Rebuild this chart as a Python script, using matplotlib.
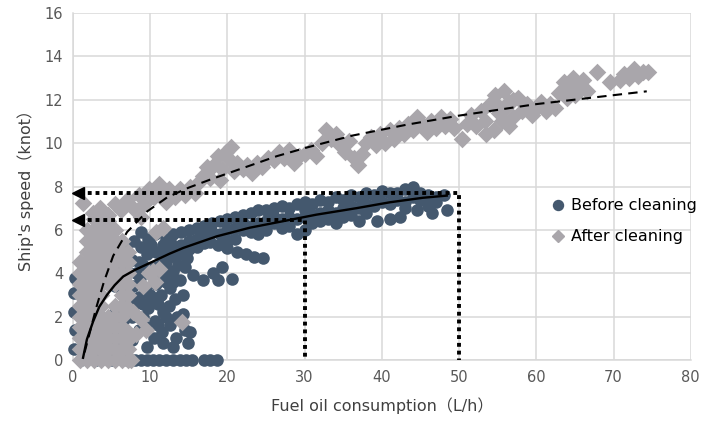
import numpy as np
import matplotlib
matplotlib.use('Agg')
import matplotlib.pyplot as plt
from matplotlib.lines import Line2D

plt.rcParams['font.family'] = ['DejaVu Sans', 'Noto Sans CJK JP']

# ---- data (x = fuel L/h, y = speed knot) ----
before_zero = [(1.0, 0), (3.0, 0), (5.0, 0), (7.0, 0), (8.0, 0), (8.8, 0), (9.6, 0),
               (10.4, 0), (11.2, 0), (12.0, 0), (13.0, 0), (13.8, 0), (14.6, 0),
               (15.4, 0), (17.0, 0), (17.8, 0), (18.6, 0)]

before_edge = [(0.1, 3.1), (0.1, 2.2), (0.1, 0.5), (0.2, 1.4), (0.2, 3.8)]

before_left = [(5.5, 1.0), (5.5, 2.2), (5.5, 3.4), (5.8, 4.5), (6.5, 0.6), (6.5, 1.8),
               (6.6, 3.0), (6.8, 4.2), (6.9, 5.2), (7.6, 0.9), (7.6, 2.0), (7.8, 3.4),
               (7.6, 4.6), (7.9, 5.5), (8.6, 1.4), (8.5, 2.9), (8.7, 3.8), (8.6, 4.5),
               (8.8, 5.2), (8.8, 5.9), (9.6, 0.6), (9.5, 1.5), (9.7, 2.4), (9.4, 3.2),
               (9.8, 4.0), (9.6, 4.9), (9.7, 5.6), (10.5, 1.0), (10.6, 1.8), (10.4, 2.7),
               (10.7, 3.5), (10.5, 4.3), (10.8, 5.0), (10.6, 5.8), (11.5, 1.3), (11.6, 2.2),
               (11.4, 3.0), (11.7, 3.8), (11.5, 4.6), (11.6, 5.3), (12.5, 1.6), (12.4, 2.5),
               (12.6, 3.3), (12.4, 4.1), (12.7, 4.8), (12.5, 5.5), (13.4, 1.0), (13.5, 2.0),
               (13.2, 2.8), (13.6, 4.4), (13.4, 5.2), (14.2, 3.0), (14.5, 1.4), (14.9, 0.8),
               (15.1, 1.3), (14.3, 2.1), (11.7, 0.8), (13.0, 0.6),
               (8.0, 2.6), (9.0, 2.0), (10.0, 3.0), (11.0, 2.6), (12.0, 2.0), (12.0, 3.6),
               (13.0, 3.6), (13.0, 4.1), (9.1, 4.4), (10.1, 5.3), (11.1, 4.0), (12.1, 4.5),
               (13.8, 3.7), (14.5, 4.3), (14.8, 4.7), (8.2, 4.0), (9.0, 2.6), (11.0, 1.6)]

before_branch = [(17.7, 5.45), (18.8, 5.3), (20.0, 5.15), (21.2, 5.0), (22.4, 4.9),
                 (23.5, 4.75), (24.6, 4.7), (15.5, 3.9), (16.8, 3.7), (18.1, 4.0),
                 (19.3, 4.3), (20.6, 3.75), (18.8, 3.7)]

before_band = [(12, 5.0), (12, 5.6), (13, 5.2), (13, 5.8), (13, 4.8), (14, 5.3), (14, 5.9),
               (14, 4.9), (15, 5.5), (15, 6.0), (15, 5.1), (16, 5.6), (16, 6.1), (16, 5.2),
               (17, 5.7), (17, 6.2), (17, 5.4), (18, 5.9), (18, 6.3), (19, 5.8), (19, 6.4),
               (20, 6.0), (20, 6.5), (20, 5.5), (21, 6.1), (21, 6.6), (21, 5.6), (22, 6.0),
               (22, 6.7), (22, 6.3), (23, 6.2), (23, 6.8), (23, 5.9), (24, 6.3), (24, 6.9),
               (24, 5.8), (25, 6.4), (25, 6.9), (25, 6.0), (26, 6.3), (26, 7.0), (26, 6.6),
               (27, 6.5), (27, 7.1), (27, 6.1), (28, 6.6), (28, 7.0), (28, 6.2), (29, 6.5),
               (29, 7.2), (29, 5.8), (30, 6.6), (30, 7.3), (30, 6.0), (30, 6.9), (31, 6.7),
               (31, 7.2), (31, 6.3), (32, 6.8), (32, 7.4), (32, 6.4), (33, 6.9), (33, 7.3),
               (33, 6.5), (34, 6.8), (34, 7.5), (34, 6.3), (35, 7.0), (35, 7.4), (35, 6.6),
               (36, 7.1), (36, 7.6), (36, 6.7), (37, 7.0), (37, 7.5), (37, 6.4), (38, 7.2),
               (38, 7.7), (38, 6.8), (39, 7.1), (39, 7.6), (39.4, 6.4), (40, 7.3), (40, 7.8),
               (41, 6.5), (41, 7.2), (41, 7.7), (42.3, 6.6), (42, 7.4), (42, 7.7), (43, 7.3),
               (43, 7.9), (43, 7.0), (44, 7.5), (44, 8.0), (44.5, 6.9), (45, 7.4), (45, 7.7),
               (46, 7.6), (46, 7.1), (46.5, 6.8), (47, 7.5), (47, 7.3), (48, 7.6), (48.4, 6.9)]

after_column = [(0.9, 0.0), (0.9, 0.5), (0.9, 1.0), (0.9, 1.5), (0.9, 2.0), (0.9, 2.5),
                (0.9, 3.0), (0.9, 3.5), (0.9, 4.0), (0.9, 4.5),
                (1.8, 0.0), (1.8, 0.5), (1.8, 1.0), (1.8, 1.5), (1.8, 2.0), (1.8, 2.5),
                (1.8, 3.0), (1.8, 3.5), (1.8, 4.0), (1.8, 4.5), (1.8, 5.0), (1.8, 5.5),
                (1.8, 6.0),
                (2.7, 0.0), (2.7, 0.5), (2.7, 1.0), (2.7, 1.5), (2.7, 2.0), (2.7, 2.5),
                (2.7, 3.0), (2.7, 3.5), (2.7, 4.0), (2.7, 4.5), (2.7, 5.0), (2.7, 5.5),
                (2.7, 6.0), (2.7, 6.5),
                (3.6, 0.0), (3.6, 0.5), (3.6, 1.0), (3.6, 1.5), (3.6, 2.0), (3.6, 2.5),
                (3.6, 3.0), (3.6, 3.5), (3.6, 4.0), (3.6, 4.5), (3.6, 5.0), (3.6, 5.5),
                (3.6, 6.0), (3.6, 6.5),
                (4.5, 0.0), (4.5, 0.5), (4.5, 1.0), (4.5, 1.5), (4.5, 2.0), (4.5, 3.5),
                (4.5, 4.0), (4.5, 4.5), (4.5, 5.0), (4.5, 5.5), (4.5, 6.0), (4.5, 6.4),
                (5.4, 0.0), (5.4, 0.5), (5.4, 1.0), (5.4, 1.5), (5.4, 2.0), (5.4, 2.5),
                (5.4, 3.5), (5.4, 4.0), (5.4, 4.5), (5.4, 5.0), (5.4, 5.5), (5.4, 6.0),
                (6.3, 0.0), (6.3, 0.5), (6.3, 1.0), (6.3, 1.5), (6.3, 2.0), (6.3, 2.5),
                (6.3, 3.0), (6.3, 3.5), (6.3, 4.0), (6.3, 4.5), (6.3, 5.0), (6.3, 5.5),
                (7.1, 0.0), (7.1, 0.5), (7.1, 0.9), (7.1, 1.3), (7.1, 2.4), (7.1, 3.0),
                (7.1, 3.5), (7.1, 4.0), (7.1, 4.5), (7.1, 5.0), (7.5, 0.0)]

after_inner = [(9.0, 3.4), (9.8, 4.0), (10.6, 3.6), (11.2, 4.2), (8.2, 1.2), (8.8, 1.9),
               (9.4, 1.4), (14.1, 1.75), (7.8, 2.2), (10.8, 5.9), (11.6, 6.1), (10.4, 4.1)]

after_top = [(1.3, 7.25), (2.6, 6.8), (3.5, 7.0), (4.5, 6.7), (5.4, 7.2), (6.2, 6.9),
             (7.0, 7.4), (7.8, 7.0), (8.5, 7.6), (9.2, 7.2), (9.8, 7.9), (10.5, 7.5),
             (11.2, 8.1), (11.8, 7.6), (12.4, 7.9), (8.8, 6.6), (12.0, 7.3)]

after_band = [(12.5, 7.7), (13.2, 7.5), (13.8, 7.9), (14.5, 7.6), (15.2, 8.0), (15.8, 7.7),
              (16.3, 8.2), (16.8, 8.5), (17.3, 8.9), (17.8, 8.4), (18.3, 9.0), (18.8, 9.4),
              (19.3, 8.8), (19.8, 9.6), (20.3, 9.2), (20.8, 8.7), (21.3, 9.1), (19.0, 8.3),
              (20.5, 9.8), (22.0, 8.8), (22.5, 9.0), (23.2, 8.6), (23.8, 9.1), (24.5, 8.9),
              (25.2, 9.3), (26.0, 9.2), (26.7, 9.6), (27.3, 9.3), (28.0, 9.7), (28.6, 9.1),
              (29.3, 9.4), (30.0, 9.5), (30.8, 9.7), (31.5, 9.4), (32.2, 10.0), (32.8, 10.6),
              (33.4, 10.2), (34.0, 10.4), (34.6, 9.9), (35.2, 9.6), (35.8, 10.1), (36.4, 9.3),
              (36.9, 9.0), (37.4, 9.5), (38.0, 10.0), (38.6, 10.3), (39.2, 9.9), (39.8, 10.4),
              (40.4, 10.0), (41.0, 10.6), (41.6, 10.2), (42.2, 10.7), (42.8, 10.4), (43.4, 10.9),
              (44.0, 10.6), (44.6, 11.2), (45.2, 10.9), (45.8, 10.5), (46.4, 11.0), (47.0, 10.7),
              (47.6, 11.2), (48.2, 10.8), (48.8, 11.1), (49.4, 10.7), (50.4, 10.2), (51.0, 10.9),
              (51.6, 11.3), (52.2, 10.8), (52.8, 11.5), (53.4, 11.0), (53.5, 10.4), (54.0, 11.8),
              (54.5, 10.6), (54.6, 12.2), (55.0, 11.7), (55.2, 11.4), (55.5, 11.0), (55.8, 12.4),
              (56.0, 11.6), (56.4, 11.9), (56.5, 10.8), (57.0, 11.2), (57.0, 12.0), (57.6, 12.1),
              (58.2, 11.5), (58.8, 11.8), (59.4, 11.3), (60.0, 11.6), (60.6, 11.9), (61.2, 11.5),
              (61.8, 11.8), (62.4, 11.6), (63.0, 12.3), (63.6, 12.8), (64.0, 12.1), (64.2, 12.4),
              (64.8, 13.0), (65.0, 12.2), (65.4, 12.6), (66.0, 12.9), (66.6, 12.4), (67.8, 13.3),
              (69.5, 12.8), (70.8, 12.9), (71.4, 13.2), (72.0, 13.0), (72.6, 13.4), (73.2, 13.1),
              (73.8, 13.3), (74.5, 13.3)]

# trendlines
before_trend = [(1.3, 0.1), (1.8, 0.95), (2.6, 1.77), (3.4, 2.45), (4.4, 3.0), (5.4, 3.45),
                (6.5, 3.85), (8.0, 4.15), (9.5, 4.4), (12.5, 4.9), (14.3, 5.17), (18.6, 5.7),
                (22.9, 6.1), (27.2, 6.4), (31.5, 6.7), (36.7, 7.0), (41.0, 7.27), (45.3, 7.48),
                (48.4, 7.58)]
after_trend = [(1.5, 0.35), (2.2, 1.3), (3.0, 2.4), (4.0, 3.6), (5.2, 4.8), (7.0, 5.9),
               (9.6, 6.85), (12.2, 7.5), (15.0, 7.95), (18.0, 8.35), (21.6, 8.8), (26.4, 9.4),
               (30.3, 9.8), (36.2, 10.35), (43.2, 10.85), (50.0, 11.27), (60.0, 11.8),
               (74.3, 12.39)]

# read-off guide lines
speed_high, fuel_high = 7.7, 50
speed_low, fuel_low = 6.45, 30

BLUE = '#44586e'
GRAY = '#a9a6ab'

before = np.array(before_zero + before_edge + before_left + before_branch + before_band)
after = np.array(after_column + after_inner + after_top + after_band)
bt = np.array(before_trend)
at = np.array(after_trend)

fig = plt.figure(figsize=(7.2, 4.21), dpi=100)
ax = fig.add_axes([0.1014, 0.145, 0.858, 0.824])

ax.scatter(before[:, 0], before[:, 1], s=82, marker='o', color=BLUE, linewidths=0,
           zorder=3, clip_on=False)
ax.scatter(after[:, 0], after[:, 1], s=80, marker='D', color=GRAY, linewidths=0,
           zorder=4, clip_on=False)

ax.plot(bt[:, 0], bt[:, 1], color='black', lw=1.7, zorder=5)
ax.plot(at[:, 0], at[:, 1], color='black', lw=1.5, dashes=(4.5, 3), zorder=5)

dot = dict(color='black', lw=2.8, linestyle=(0, (1, 1)), zorder=6,
           dash_capstyle='butt', clip_on=False)
ax.plot([0.9, fuel_high, fuel_high], [speed_high, speed_high, 0], **dot)
ax.plot([0.9, fuel_low, fuel_low], [speed_low, speed_low, 0], **dot)
ax.plot([0.6, 0.6], [speed_high, speed_low], ls='none', marker='<', ms=9, color='black',
        zorder=7, clip_on=False)

ax.set_xlim(0, 80)
ax.set_ylim(0, 16)
ax.set_xticks(np.arange(0, 81, 10))
ax.set_yticks(np.arange(0, 17, 2))
ax.grid(True, color='#d9d9d9', lw=1.1, zorder=0)
ax.set_axisbelow(True)
for side in ['top', 'right']:
    ax.spines[side].set_visible(False)
for side in ['left', 'bottom']:
    ax.spines[side].set_color('#d9d9d9')
    ax.spines[side].set_linewidth(1.1)
ax.tick_params(length=0, labelsize=10.5, labelcolor='#595959', pad=7)

ax.set_xlabel('Fuel oil consumption（L/h）', fontsize=11.5, color='#404040', labelpad=9)
ax.set_ylabel("Ship's speed（knot）", fontsize=11.5, color='#404040', labelpad=8)

handles = [Line2D([], [], ls='none', marker='o', ms=7.2, color=BLUE),
           Line2D([], [], ls='none', marker='D', ms=6.2, color=GRAY)]
ax.legend(handles, ['Before cleaning', 'After cleaning'], loc='center left',
          bbox_to_anchor=(0.765, 0.40), frameon=False, fontsize=11.5,
          handlelength=0.8, handletextpad=0.4, labelspacing=1.0, borderaxespad=0)

fig.savefig('out.png', dpi=100)
